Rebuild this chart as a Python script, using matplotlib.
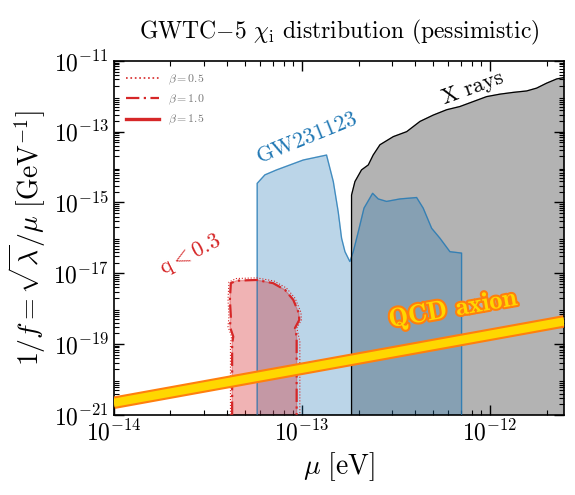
import matplotlib
matplotlib.use("Agg")
import matplotlib.pyplot as plt
import matplotlib.patheffects as pe
import numpy as np
from matplotlib.lines import Line2D

plt.rcParams["font.family"] = "serif"
plt.rcParams["font.serif"] = ["cmr10"]
plt.rcParams["mathtext.fontset"] = "cm"
plt.rcParams["axes.formatter.use_mathtext"] = True

# boundaries as (log10 mu [eV], log10 1/f [GeV^-1])
xray_logx = [-12.736, -12.736, -12.718, -12.683, -12.647, -12.621, -12.585, -12.514,
             -12.443, -12.372, -12.301, -12.230, -12.160, -12.089, -12.018, -11.947,
             -11.876, -11.805, -11.752, -11.699, -11.645, -11.606, -11.606]
xray_logy = [-21.0, -14.79, -14.41, -14.08, -13.94, -13.66, -13.37, -13.14,
             -13.00, -12.71, -12.53, -12.38, -12.29, -12.15, -12.01, -11.94,
             -11.89, -11.85, -11.77, -11.63, -11.51, -11.47, -21.0]

gw_logx = [-13.238, -13.238, -13.197, -13.135, -13.064, -12.993, -12.931, -12.869,
           -12.833, -12.807, -12.789, -12.771, -12.745, -12.727, -12.700, -12.670,
           -12.624, -12.594, -12.550, -12.479, -12.390, -12.355, -12.310, -12.266,
           -12.213, -12.151, -12.151]
gw_logy = [-21.0, -14.46, -14.22, -14.08, -13.94, -13.80, -13.73, -13.66,
           -14.41, -15.26, -16.01, -16.39, -16.67, -16.39, -15.82, -15.16,
           -14.74, -14.90, -14.97, -14.90, -14.86, -15.16, -15.73, -16.01,
           -16.39, -16.43, -21.0]

q_dash_logx = [-13.371, -13.371, -13.365, -13.383, -13.378, -13.383, -13.378, -13.347,
               -13.241, -13.153, -13.090, -13.046, -13.016, -13.014, -13.037,
               -13.028, -13.028]
q_dash_logy = [-21.0, -18.98, -18.79, -18.51, -18.22, -17.75, -17.28, -17.21,
               -17.19, -17.28, -17.47, -17.75, -18.13, -18.32, -18.55,
               -18.79, -21.0]
q_dot_logx = [-13.380, -13.380, -13.374, -13.393, -13.388, -13.393, -13.388, -13.350,
              -13.241, -13.148, -13.082, -13.036, -13.005, -13.003, -13.027,
              -13.011, -13.011]
q_dot_logy = [-21.0, -18.98, -18.79, -18.51, -18.22, -17.75, -17.25, -17.15,
              -17.13, -17.22, -17.42, -17.71, -18.11, -18.32, -18.55,
              -18.93, -21.0]

axion_logx = [-14.0, -11.606]
axion_logy = [-20.66, -18.36]

red = "#d62728"
blue = "#1f77b4"


def p(v):
    return 10.0 ** np.array(v)


fig = plt.figure(figsize=(5.75, 4.95), dpi=100)
ax = fig.add_axes([0.198, 0.162, 0.783, 0.715])

ax.fill(p(xray_logx), p(xray_logy), color="#b3b3b3", zorder=1)
ax.plot(p(xray_logx[:-1]), p(xray_logy[:-1]), color="black", lw=0.9, zorder=4)

ax.fill(p(gw_logx), p(gw_logy), color=blue, alpha=0.3, zorder=2)
ax.plot(p(gw_logx), p(gw_logy), color=blue, lw=0.9, alpha=0.75, zorder=3)

ax.fill(p(q_dash_logx), p(q_dash_logy), color=red, alpha=0.35, zorder=2)
ax.plot(p(q_dash_logx), p(q_dash_logy), color=red, lw=1.6, ls=(0, (6, 2, 1, 2)), zorder=3)
ax.plot(p(q_dot_logx), p(q_dot_logy), color=red, lw=0.8, ls=":", zorder=3)

ax.plot(p(axion_logx), p(axion_logy), color="#ff7f0e", lw=9, solid_capstyle="butt", zorder=5)
ax.plot(p(axion_logx), p(axion_logy), color="#ffd700", lw=6, solid_capstyle="butt", zorder=6)

ax.set_xscale("log")
ax.set_yscale("log")
ax.set_xlim(1e-14, p(-11.606))
ax.set_ylim(1e-21, 1e-11)
ax.set_yticks([1e-21, 1e-19, 1e-17, 1e-15, 1e-13, 1e-11])
ax.yaxis.set_minor_locator(matplotlib.ticker.LogLocator(base=10, subs=np.arange(2, 10), numticks=100))
ax.yaxis.set_minor_formatter(matplotlib.ticker.NullFormatter())
ax.tick_params(which="both", direction="in", top=True, right=True, labelsize=17)
ax.tick_params(which="major", length=7, width=1)
ax.tick_params(which="minor", length=3.5, width=0.8)
for s in ax.spines.values():
    s.set_linewidth(1.2)

ax.set_xlabel(r"$\mu\ [\mathrm{eV}]$", fontsize=20)
ax.set_ylabel(r"$1/f = \sqrt{\lambda}/\mu\ [\mathrm{GeV}^{-1}]$", fontsize=20)
ax.set_title(r"GWTC$-$5 $\chi_{\rm i}$ distribution (pessimistic)", fontsize=17, pad=16)

ax.text(p(-12.09), p(-11.76), "X rays", fontsize=16, rotation=20, ha="center", va="center", zorder=7)
ax.text(p(-12.973), p(-13.18), "GW231123", fontsize=16, rotation=22, color=blue,
        ha="center", va="center", zorder=7)
ax.text(p(-13.596), p(-16.48), r"$\mathrm{q} < 0.3$", fontsize=16, rotation=27, color=red,
        ha="center", va="center", zorder=7)
ax.text(p(-12.197), p(-18.03), "QCD axion", fontsize=19, rotation=10, color="#ffd700",
        family="cmb10", ha="center", va="center", zorder=7,
        path_effects=[pe.withStroke(linewidth=3, foreground="#ff7f0e")])

handles = [Line2D([], [], color=red, lw=1.2, ls=":"),
           Line2D([], [], color=red, lw=1.6, ls=(0, (6, 2, 1, 2))),
           Line2D([], [], color=red, lw=2.4)]
labels = [r"$\beta = 0.5$", r"$\beta = 1.0$", r"$\beta = 1.5$"]
leg = ax.legend(handles, labels, loc="upper left", frameon=False, fontsize=8.5,
                handlelength=2.8, labelspacing=0.5, borderaxespad=0.6)
for t in leg.get_texts():
    t.set_color("#777777")

fig.savefig("out.png", dpi=100)
